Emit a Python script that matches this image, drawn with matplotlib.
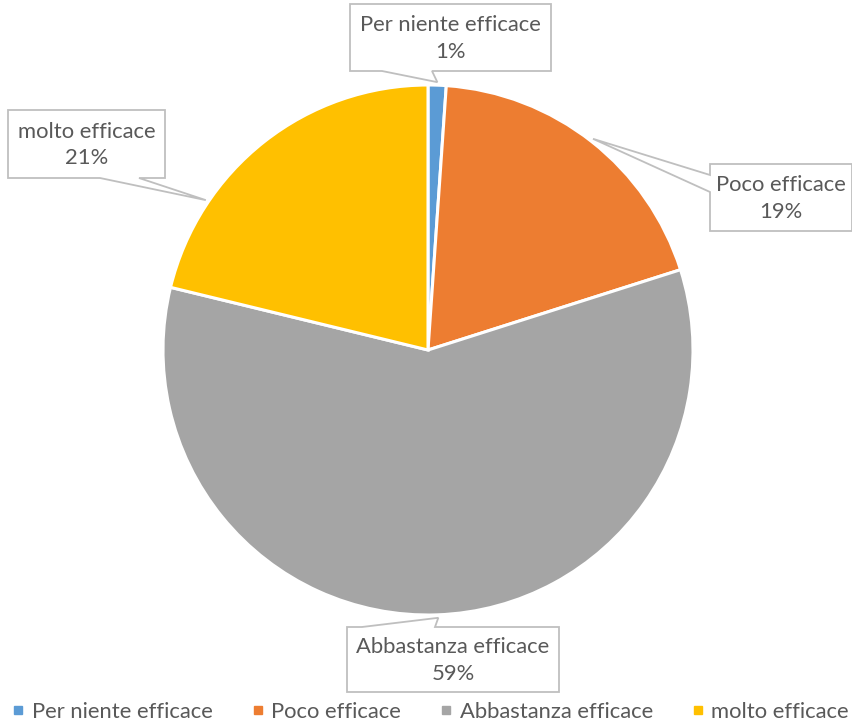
import numpy as np
import matplotlib
matplotlib.use("Agg")
import matplotlib.pyplot as plt
from matplotlib.patches import Polygon
from matplotlib.lines import Line2D

# data
categories = ["Per niente efficace", "Poco efficace", "Abbastanza efficace", "molto efficace"]
values = [1.1, 19.0, 58.7, 21.2]
colors = ["#5B9BD5", "#ED7D31", "#A5A5A5", "#FFC000"]

W, H = 853, 724
CX, CY, R = 428, 350, 265          # pie centre/radius, pixels from top-left
TEXT = "#595959"
EDGE = "#BFBFBF"
FONT = "Lato"
FS = 15.8

# callout layout: box (x0, y0, x1, y1), side with the pointer, base span, tip angle
CALLOUTS = [
    ((350, 4, 551, 71), "bottom", (382, 432), 88.0),
    ((710, 164, 852, 231), "left", (175, 192), 52.0),
    ((347, 627, 559, 692), "top", (362, 435), -87.8),
    ((8, 110, 165, 178), "bottom", (100, 139), 146.0),
]


def to_ax(x, y):
    return x, H - y


def callout_poly(box, side, base, tip):
    x0, y0, x1, y1 = box
    a, b = base
    if side == "bottom":
        pts = [(x0, y0), (x1, y0), (x1, y1), (b, y1), tip, (a, y1), (x0, y1)]
    elif side == "left":
        pts = [(x0, y0), (x1, y0), (x1, y1), (x0, y1), (x0, b), tip, (x0, a)]
    else:  # top
        pts = [(x0, y0), (a, y0), tip, (b, y0), (x1, y0), (x1, y1), (x0, y1)]
    return [to_ax(*p) for p in pts]


fig = plt.figure(figsize=(W / 100, H / 100), dpi=100)
ax = fig.add_axes([0, 0, 1, 1])

ax.pie(values, colors=colors, startangle=90, counterclock=False,
       center=to_ax(CX, CY), radius=R, frame=True,
       wedgeprops=dict(edgecolor="white", linewidth=2.2))
ax.set_xlim(0, W)
ax.set_ylim(0, H)
ax.axis("off")

total = sum(values)
for cat, val, (box, side, base, ang) in zip(categories, values, CALLOUTS):
    rt = R + 3
    tip = (CX + rt * np.cos(np.radians(ang)), CY - rt * np.sin(np.radians(ang)))
    poly = Polygon(callout_poly(box, side, base, tip), closed=True,
                   facecolor="white", edgecolor=EDGE, linewidth=1.3, zorder=5)
    ax.add_patch(poly)
    cx = (box[0] + box[2]) / 2
    cy = (box[1] + box[3]) / 2
    pct = f"{round(val / total * 100):.0f}%"
    ax.text(*to_ax(cx, cy + 1), f"{cat}\n{pct}", ha="center", va="center",
            fontsize=FS, color=TEXT, family=FONT, linespacing=1.42, zorder=6)

handles = [Line2D([], [], marker="s", linestyle="none", markersize=6,
                  markerfacecolor=c, markeredgecolor=c) for c in colors]
fig.legend(handles, categories, loc="lower center", ncol=4, frameon=False,
           bbox_to_anchor=(0.504, -0.024), handletextpad=0.25, columnspacing=1.72,
           prop={"family": FONT, "size": FS}, labelcolor=TEXT, handlelength=0.7)

fig.savefig("out.png", dpi=100)
